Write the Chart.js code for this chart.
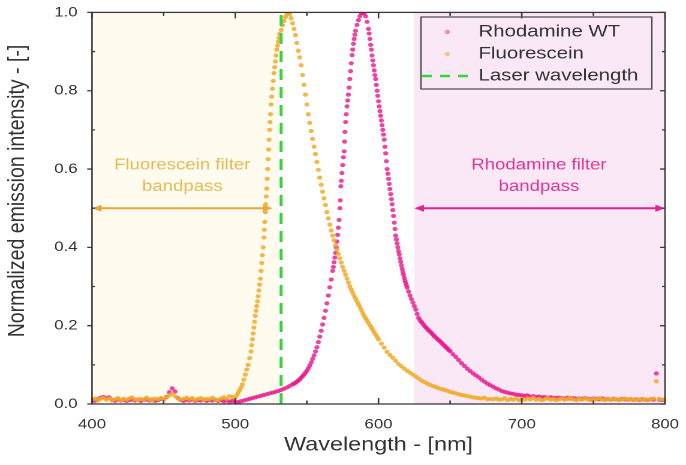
<!DOCTYPE html>
<html>
<head>
<meta charset="utf-8">
<script src="https://cdn.jsdelivr.net/npm/chart.js@4.4.0/dist/chart.umd.min.js"></script>
<style>
  html, body { margin: 0; padding: 0; background: #fff; overflow: hidden; }
  /* the source figure is stretched sideways, so draw narrow and widen */
  #wrap { width: 572px; height: 465px; transform: scaleX(1.1993); transform-origin: 0 0; }
</style>
</head>
<body>
<div id="wrap"><canvas id="myChart" width="572" height="465"></canvas></div>
<script>
// ---- data ----
const fluoNm = [
  400,402,404,406,408,410,412,414,416,418,
  420,422,424,426,428,430,432,434,436,438,
  440,442,444,446,448,450,452,454,456,458,
  460,462,464,466,468,470,472,474,476,478,
  480,482,484,486,488,490,492,494,496,498,
  500,501,502,503,504,505,506,507,508,509,
  510,511,511.5,512,512.5,513,513.5,514,514.5,515,
  515.5,516,516.5,517,517.5,518,518.5,519,519.5,520,
  520.3,520.6,521,521.3,521.6,522,522.3,522.6,523,523.3,
  523.6,524,524.3,524.6,525,525.5,526,526.5,527,527.5,
  528,528.5,529,529.5,530,530.5,531,532,533,534,
  535,536,537,538,539,540,541,542,543,544,
  545,546,547,548,549,550,551,552,553,554,
  555,556,557,558,559,560,561,562,563,564,
  565,566,567,568,569,570,571,572,573,574,
  575,576,577,578,579,580,581,582,583,584,
  585,586,587,588,589,590,591,592,593,594,
  595,596,597,598,599,600,602,604,606,608,
  610,612,614,616,618,620,622,624,626,628,
  630,632,634,636,638,640,642,644,646,648,
  650,652,654,656,658,660,662,664,666,668,
  670,672,674,676,678,680,682,684,686,688,
  690,692,694,696,698,700,702,704,706,708,
  710,712,714,716,718,720,722,724,726,728,
  730,732,734,736,738,740,742,744,746,748,
  750,752,754,756,758,760,762,764,766,768,
  770,772,774,776,778,780,782,784,786,788,
  790,792,794,796,798,800
];
const fluoVal = [
  .012,.014,.009,.013,.016,.011,.014,.009,.012,.015,
  .010,.013,.011,.014,.017,.012,.010,.013,.011,.016,
  .012,.009,.014,.012,.015,.013,.017,.022,.026,.020,
  .014,.011,.013,.016,.012,.015,.010,.013,.015,.011,
  .013,.012,.016,.012,.010,.014,.017,.013,.020,.018,
  .016,.022,.028,.035,.042,.050,.062,.075,.088,.100,
  .117,.134,.150,.165,.180,.195,.210,.225,.238,.250,
  .262,.275,.290,.305,.320,.340,.360,.380,.400,.425,
  .445,.465,.490,.510,.530,.550,.575,.600,.625,.650,
  .675,.700,.720,.740,.765,.785,.805,.825,.845,.860,
  .875,.890,.905,.915,.925,.935,.945,.955,.967,.978,
  .988,.995,1.00,.995,.985,.972,.958,.942,.922,.902,
  .885,.865,.840,.815,.790,.765,.740,.718,.697,.677,
  .657,.638,.618,.598,.578,.560,.542,.525,.508,.490,
  .474,.458,.443,.430,.418,.405,.394,.383,.372,.361,
  .350,.340,.330,.320,.310,.300,.292,.284,.276,.269,
  .262,.255,.248,.240,.232,.225,.219,.213,.207,.201,
  .195,.189,.183,.177,.171,.165,.154,.144,.133,.125,
  .118,.110,.102,.096,.090,.085,.080,.075,.070,.065,
  .060,.056,.052,.049,.046,.043,.040,.038,.036,.034,
  .031,.029,.027,.025,.023,.022,.020,.019,.017,.016,
  .015,.014,.016,.012,.013,.012,.014,.011,.012,.015,
  .010,.013,.011,.014,.010,.012,.011,.014,.012,.016,
  .011,.013,.010,.012,.015,.011,.013,.010,.012,.014,
  .011,.013,.016,.012,.010,.013,.011,.014,.012,.010,
  .013,.011,.015,.012,.010,.013,.011,.014,.012,.010,
  .012,.014,.011,.013,.010,.012,.011,.013,.012,.010,
  .012,.014,.058,.013,.011,.012
];

const rhodNm = [
  400,402,404,406,408,410,412,414,416,418,
  420,422,424,426,428,430,432,434,436,438,
  440,442,444,446,448,450,452,454,456,458,
  460,462,464,466,468,470,472,474,476,478,
  480,482,484,486,488,490,492,494,496,498,
  500,502,504,506,508,510,512,514,516,518,
  520,522,524,526,528,530,532,534,536,538,
  540,541,542,543,544,545,546,547,548,549,
  550,551,552,553,554,555,556,557,558,559,
  560,561,562,563,564,565,566,567,568,568.5,
  569,569.5,570,570.5,571,571.5,572,572.5,573,573.3,
  573.7,574,574.5,575,575.5,576,576.3,576.6,577,577.5,
  578,578.5,579,579.5,580,580.5,581,581.6,582,582.5,
  583,583.5,584,585,586,587,588,589,590,591,
  592,593,593.5,594,594.5,595,595.5,596,596.5,597,
  597.5,598,598.5,599,599.5,600,600.5,601,601.5,602,
  602.5,603,603.5,604,604.5,605,605.5,606,606.5,607,
  607.5,608,608.5,609,609.5,610,610.5,611,611.5,612,
  612.5,613,613.5,614,614.5,615,615.5,616,616.5,617,
  617.5,618,618.5,619,619.5,620,621,622,623,624,
  625,626,627,628,629,630,631,632,633,634,
  635,636,637,638,639,640,641,642,643,644,
  645,646,647,648,649,650,652,654,656,658,
  660,662,664,666,668,670,672,674,676,678,
  680,682,684,686,688,690,692,694,696,698,
  700,702,704,706,708,710,712,714,716,718,
  720,722,724,726,728,730,732,734,736,738,
  740,742,744,746,748,750,752,754,756,758,
  760,762,764,766,768,770,772,774,776,778,
  780,782,784,786,788,790,792,794,796,798,
  800
];
const rhodVal = [
  .010,.008,.012,.016,.018,.015,.017,.010,.008,.012,
  .009,.011,.008,.010,.012,.009,.011,.008,.010,.012,
  .009,.011,.008,.010,.013,.012,.018,.030,.040,.032,
  .015,.010,.008,.011,.009,.012,.008,.010,.009,.011,
  .008,.010,.009,.011,.008,.010,.007,.009,.006,.008,
  .005,.005,.007,.009,.011,.013,.015,.017,.019,.021,
  .023,.025,.027,.029,.031,.033,.036,.039,.042,.046,
  .050,.052,.054,.057,.060,.063,.067,.071,.075,.080,
  .085,.091,.098,.106,.115,.124,.134,.145,.158,.172,
  .187,.203,.220,.238,.257,.277,.298,.318,.340,.350,
  .362,.374,.386,.400,.415,.432,.450,.470,.500,.520,
  .556,.570,.590,.610,.630,.645,.670,.695,.720,.740,
  .760,.775,.790,.808,.830,.850,.870,.891,.905,.920,
  .932,.943,.953,.968,.980,.990,.997,1.00,.997,.990,
  .976,.958,.946,.932,.917,.905,.890,.877,.865,.852,
  .840,.830,.815,.800,.787,.773,.760,.748,.736,.724,
  .712,.700,.688,.675,.657,.640,.620,.600,.588,.575,
  .562,.549,.536,.523,.510,.495,.480,.463,.447,.430,
  .420,.410,.400,.390,.382,.372,.363,.354,.345,.337,
  .330,.322,.315,.309,.303,.297,.287,.277,.268,.259,
  .250,.241,.230,.220,.214,.209,.205,.200,.196,.192,
  .188,.185,.181,.177,.173,.170,.166,.163,.160,.156,
  .152,.149,.145,.142,.138,.135,.127,.120,.112,.104,
  .097,.090,.084,.078,.073,.068,.062,.057,.052,.048,
  .044,.040,.037,.033,.031,.029,.027,.026,.024,.023,
  .022,.021,.022,.019,.020,.018,.019,.017,.018,.016,
  .017,.016,.015,.016,.015,.014,.016,.014,.015,.013,
  .014,.013,.015,.013,.012,.014,.013,.012,.014,.012,
  .013,.011,.013,.012,.011,.013,.012,.011,.012,.011,
  .012,.010,.012,.011,.010,.012,.011,.078,.011,.010,
  .011
];

const laserNm = 532;
const laserY = [0, 1];

const xTicks = [400, 500, 600, 700, 800];
const yTicks = [0, 0.2, 0.4, 0.6, 0.8, 1.0];

const seriesNames = ['Rhodamine WT', 'Fluorescein', 'Laser wavelength'];
// filter passbands, nm
const fluoBand = [400, 530];
const rhodBand = [625, 800];

// ---- styling ----
const FONT = "'Liberation Sans', Arial, sans-serif";
const pink = 'rgba(232,22,140,0.8)';
const gold = 'rgba(240,170,40,0.85)';
const green = '#36d436';

function pts(xs, ys) { return xs.map((v, i) => ({x: v, y: ys[i]})); }

const backdrop = {
  id: 'backdrop',
  beforeDatasetsDraw(chart) {
    const {ctx, chartArea: a, scales: {x, y}} = chart;
    ctx.save();
    ctx.fillStyle = '#fffcef';
    ctx.fillRect(x.getPixelForValue(fluoBand[0]), a.top,
      x.getPixelForValue(fluoBand[1]) - x.getPixelForValue(fluoBand[0]), a.height);
    ctx.fillStyle = '#fbe8f7';
    ctx.fillRect(x.getPixelForValue(rhodBand[0]), a.top,
      x.getPixelForValue(rhodBand[1]) - x.getPixelForValue(rhodBand[0]), a.height);

    // passband arrows + labels
    const arrow = (x0, x1, yy, col) => {
      ctx.strokeStyle = col; ctx.fillStyle = col; ctx.lineWidth = 2;
      ctx.beginPath(); ctx.moveTo(x0 + 4, yy); ctx.lineTo(x1 - 4, yy); ctx.stroke();
      ctx.beginPath(); ctx.moveTo(x0, yy); ctx.lineTo(x0 + 8, yy - 3.5); ctx.lineTo(x0 + 8, yy + 3.5); ctx.fill();
      ctx.beginPath(); ctx.moveTo(x1, yy); ctx.lineTo(x1 - 8, yy - 3.5); ctx.lineTo(x1 - 8, yy + 3.5); ctx.fill();
    };
    const ay = y.getPixelForValue(0.5);
    arrow(x.getPixelForValue(400), x.getPixelForValue(526), ay, '#e9a73a');
    arrow(x.getPixelForValue(625), x.getPixelForValue(800), ay, '#e2238f');

    ctx.font = '15.5px ' + FONT;
    ctx.textAlign = 'center'; ctx.textBaseline = 'middle';
    ctx.fillStyle = '#e6b955';
    ctx.fillText('Fluorescein filter', x.getPixelForValue(463), y.getPixelForValue(0.61));
    ctx.fillText('bandpass', x.getPixelForValue(463), y.getPixelForValue(0.555));
    ctx.fillStyle = '#df3597';
    ctx.fillText('Rhodamine filter', x.getPixelForValue(712), y.getPixelForValue(0.61));
    ctx.fillText('bandpass', x.getPixelForValue(712), y.getPixelForValue(0.555));
    ctx.restore();
  }
};

const frame = {
  id: 'frame',
  afterDatasetsDraw(chart) {
    const {ctx, chartArea: a, scales: {x, y}} = chart;
    ctx.save();
    ctx.strokeStyle = '#3a3a3a'; ctx.lineWidth = 1.3;
    ctx.strokeRect(a.left, a.top, a.width, a.height);
    ctx.beginPath();
    for (let v = 400; v <= 800; v += 50) {
      const px = x.getPixelForValue(v), len = v % 100 === 0 ? 6 : 3.5;
      ctx.moveTo(px, a.bottom); ctx.lineTo(px, a.bottom - len);
      ctx.moveTo(px, a.top); ctx.lineTo(px, a.top + len);
    }
    for (let i = 0; i <= 10; i++) {
      const py = y.getPixelForValue(i / 10);
      if (i % 2 === 0) {
        ctx.moveTo(a.left, py); ctx.lineTo(a.left - 4, py);
        ctx.moveTo(a.right, py); ctx.lineTo(a.right - 4, py);
      } else {
        ctx.moveTo(a.left, py); ctx.lineTo(a.left + 2.5, py);
        ctx.moveTo(a.right, py); ctx.lineTo(a.right - 2.5, py);
      }
    }
    ctx.stroke();
    ctx.restore();
  },
  afterDraw(chart) {
    const ctx = chart.ctx;
    ctx.save();
    // y axis title
    ctx.translate(14.6, 191);
    ctx.rotate(-Math.PI / 2);
    ctx.font = '19.5px ' + FONT;
    ctx.fillStyle = '#333';
    ctx.textAlign = 'center'; ctx.textBaseline = 'middle';
    ctx.fillText('Normalized emission intensity - [-]', 0, 0);
    ctx.restore();

    // legend box
    ctx.save();
    ctx.strokeStyle = '#4a4a4a'; ctx.lineWidth = 1.2;
    ctx.strokeRect(351, 17, 192.5, 72);
    ctx.font = '17px ' + FONT;
    ctx.fillStyle = '#333';
    ctx.textAlign = 'left'; ctx.textBaseline = 'middle';
    const rows = [32, 54, 76];
    seriesNames.forEach((n, i) => ctx.fillText(n, 399, rows[i]));
    ctx.fillStyle = 'rgba(232,22,140,0.45)';
    ctx.beginPath(); ctx.arc(373, rows[0], 2.2, 0, Math.PI * 2); ctx.fill();
    ctx.fillStyle = 'rgba(240,170,40,0.55)';
    ctx.beginPath(); ctx.arc(373, rows[1], 2.2, 0, Math.PI * 2); ctx.fill();
    ctx.strokeStyle = green; ctx.lineWidth = 2.5; ctx.setLineDash([8, 7]);
    ctx.beginPath(); ctx.moveTo(352, rows[2]); ctx.lineTo(395, rows[2]); ctx.stroke();
    ctx.restore();
  }
};

Chart.defaults.font.family = FONT;
Chart.defaults.color = '#333';

new Chart(document.getElementById('myChart'), {
  type: 'scatter',
  data: {
    datasets: [
      {
        label: seriesNames[2],
        data: [{x: laserNm, y: laserY[0]}, {x: laserNm, y: laserY[1]}],
        showLine: true,
        borderColor: green,
        borderWidth: 2.5,
        borderDash: [11, 7],
        pointRadius: 0,
        order: 0
      },
      {
        label: seriesNames[1],
        data: pts(fluoNm, fluoVal),
        backgroundColor: gold,
        pointRadius: 2.1,
        pointBorderWidth: 0,
        order: 1
      },
      {
        label: seriesNames[0],
        data: pts(rhodNm, rhodVal),
        backgroundColor: pink,
        pointRadius: 2.1,
        pointBorderWidth: 0,
        order: 2
      }
    ]
  },
  options: {
    responsive: false,
    animation: false,
    devicePixelRatio: 2,
    layout: { padding: { top: 7, right: 17.5, left: 0, bottom: 0 } },
    plugins: { legend: { display: false }, tooltip: { enabled: false } },
    scales: {
      x: {
        type: 'linear', min: 400, max: 800,
        afterFit: (s) => { s.height = 61; },
        afterBuildTicks: (s) => { s.ticks = xTicks.map(v => ({value: v})); },
        grid: { display: false },
        border: { display: false },
        ticks: { font: { size: 14 }, color: '#333', padding: 4 },
        title: {
          display: true, text: 'Wavelength - [nm]', color: '#333',
          font: { size: 19.5, lineHeight: 1.2 }, padding: { top: 0, bottom: 8 }
        }
      },
      y: {
        min: 0, max: 1,
        afterFit: (s) => { s.width = 76.7; },
        afterBuildTicks: (s) => { s.ticks = yTicks.map(v => ({value: v})); },
        grid: { display: false },
        border: { display: false },
        ticks: { font: { size: 14 }, color: '#333', padding: 4, callback: (v) => v.toFixed(1) }
      }
    }
  },
  plugins: [backdrop, frame]
});
</script>
</body>
</html>
